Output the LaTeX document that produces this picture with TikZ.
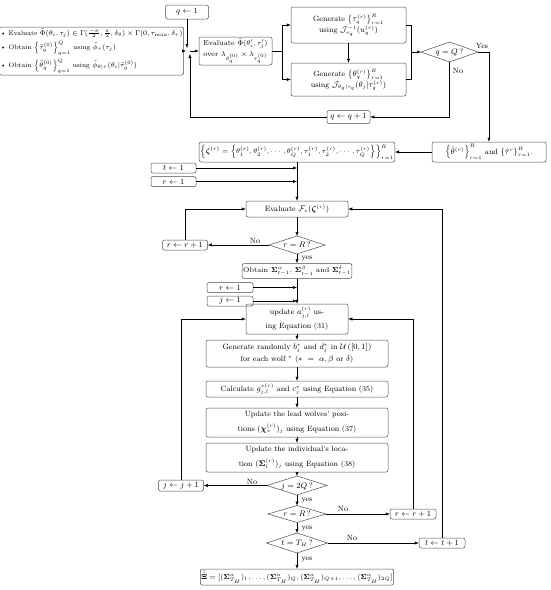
\documentclass[tikz,border=0pt]{standalone}
\usepackage{amsmath,amssymb,bm}
\usetikzlibrary{shapes.geometric,arrows.meta}
\newcommand\dtext[1]{\raisebox{-2.6pt}[0pt][0pt]{\makebox[0pt]{#1}}}
\begin{document}
\begin{tikzpicture}[x=1pt,y=-1pt,
  box/.style={draw=black!70, rounded corners=2pt, line width=0.5pt, inner sep=1pt, align=center, font=\fontsize{7.6}{9}\selectfont},
  dia/.style={draw=black!70, diamond, inner sep=0pt, outer sep=0pt, line width=0.5pt, font=\fontsize{7.6}{9}\selectfont},
  arr/.style={-{Latex[length=4pt,width=3.2pt]}, line width=0.5pt},
  ln/.style={line width=0.5pt},
  lab/.style={font=\fontsize{7.6}{9}\selectfont, inner sep=1pt}]
\useasboundingbox (0,0) rectangle (550,590);

% top part
\node[box, minimum width=173, minimum height=48, align=left, font=\fontsize{6.6}{7.5}\selectfont] (left) at (91.5,51)
 {\textbullet\ Evaluate $\tilde{\Phi}(\theta_i,\tau_j)\in\Gamma(\frac{-\pi}{2},\frac{\pi}{2},\delta_\theta)\times\Gamma(0,\tau_{\max},\delta_\tau)$\\[2.5pt]
  \textbullet\ Obtain $\left\{\tilde{\tau}_q^{(0)}\right\}_{q=1}^{Q}$ using $\tilde{\phi}_\tau(\tau_j)$\\[2.5pt]
  \textbullet\ Obtain $\left\{\tilde{\theta}_q^{(0)}\right\}_{q=1}^{Q}$ using $\tilde{\phi}_{\theta|\tau}(\theta_i|\tilde{\tau}_q^{(0)})$};
\node[box, minimum width=43, minimum height=14] (q1) at (187,12) {$q\leftarrow 1$};
\node[box, minimum width=73, minimum height=28, font=\fontsize{7.2}{8.5}\selectfont] (eval) at (235.5,51)
 {Evaluate $\tilde{\Phi}(\theta_i',\tau_j')$\\[3pt] over $\lambda_{\theta_q^{(0)}}\times\lambda_{\tau_q^{(0)}}$};
\node[box, minimum width=115, minimum height=36] (genT) at (348.5,25)
 {Generate $\left\{\tau_q^{(r)}\right\}_{r=1}^{R}$\\ using $\mathcal{J}_{\tau_q}^{-1}(u_q^{(r)})$};
\node[box, minimum width=115, minimum height=33] (genTh) at (348.5,79.5)
 {Generate $\left\{\theta_q^{(r)}\right\}_{r=1}^{R}$\\ using $\mathcal{J}_{\theta_q|\tau_q}(\theta_j|\tau_q^{(r)})$};
\node[dia, minimum width=57, minimum height=20] (dq) at (449.5,52) {\dtext{$q=Q\,?$}};
\node[box, minimum width=43, minimum height=13] (qq1) at (348.5,117) {$q\leftarrow q+1$};
\node[box, minimum width=114, minimum height=20] (yhat) at (489,152)
 {$\left\{\hat{\theta}^{(r)}\right\}_{r=1}^{R}$ and $\left\{\hat{\tau}^{r}\right\}_{r=1}^{R}$.};
\node[box, minimum width=183, minimum height=20, font=\fontsize{7.4}{9}\selectfont] (zeta) at (297,152)
 {$\left\{\boldsymbol{\zeta}^{(r)}=\left\{\theta_1^{(r)},\theta_2^{(r)},\cdots,\theta_Q^{(r)},\tau_1^{(r)},\tau_2^{(r)},\cdots,\tau_Q^{(r)}\right\}\right\}_{r=1}^{R}$};
\node[box, minimum width=45, minimum height=10] (t1) at (173.5,168) {$t\leftarrow 1$};
\node[box, minimum width=45, minimum height=10] (r1) at (173.5,181.5) {$r\leftarrow 1$};

% middle
\node[box, minimum width=102, minimum height=16] (evalF) at (297,209) {Evaluate $\mathcal{F}_c(\boldsymbol{\zeta}^{(r)})$};
\node[dia, minimum width=56, minimum height=18] (dR1) at (297,245) {\dtext{$r=R\,?$}};
\node[box, minimum width=45, minimum height=10] (rr1a) at (185,245) {$r\leftarrow r+1$};
\node[box, minimum width=101, minimum height=15, font=\fontsize{7.2}{8.5}\selectfont] (obtain) at (297,271)
 {Obtain $\boldsymbol{\Sigma}_{t-1}^{\alpha}$, $\boldsymbol{\Sigma}_{t-1}^{\beta}$ and $\boldsymbol{\Sigma}_{t-1}^{\delta}$};
\node[box, minimum width=46, minimum height=10] (r1b) at (230,287.5) {$r\leftarrow 1$};
\node[box, minimum width=46, minimum height=10] (j1) at (230,301) {$j\leftarrow 1$};
\node[box, minimum width=102, minimum height=30] (update) at (297,319)
 {update $a_{j,l}^{(r)}$ us-\\[5pt] ing Equation (31)};
\node[box, minimum width=182, minimum height=27] (genR) at (297,353.5)
 {Generate randomly $b_j^*$ and $d_j^*$ in $\mathcal{U}\left([0,1]\right)$\\[3pt] for each wolf $^*$ ($*\ =\ \alpha,\beta$ or $\delta$)};
\node[box, minimum width=182, minimum height=16] (calc) at (297,389)
 {Calculate $g_{j,l}^{*(r)}$ and $c_j^*$ using Equation (35)};
\node[box, minimum width=182, minimum height=29] (lead) at (297,422.5)
 {Update the lead wolves' posi-\\[4.5pt] tions $(\boldsymbol{\chi}_*^{(r)})_j$ using Equation (37)};
\node[box, minimum width=182, minimum height=29] (indiv) at (297,457.5)
 {Update the individual's loca-\\[4.5pt] tion $(\boldsymbol{\Sigma}_l^{(r)})_j$ using Equation (38)};
\node[dia, minimum width=60, minimum height=19] (dj) at (297,485.5) {\dtext{$j=2Q\,?$}};
\node[box, minimum width=45, minimum height=11] (jj1) at (181,485.5) {$j\leftarrow j+1$};
\node[dia, minimum width=58, minimum height=17] (dR2) at (297,514) {\dtext{$r=R\,?$}};
\node[box, minimum width=46, minimum height=10] (rr1b) at (413,514) {$r\leftarrow r+1$};
\node[dia, minimum width=61, minimum height=20] (dT) at (297,543) {\dtext{$t=T_H\,?$}};
\node[box, minimum width=46, minimum height=10] (tt1) at (442,543) {$t\leftarrow t+1$};
\node[box, minimum width=182, minimum height=16, font=\fontsize{6.8}{8}\selectfont] (final) at (297,577)
 {$\hat{\hat{\boldsymbol{\Xi}}}=[(\boldsymbol{\Sigma}_{T_H}^{\alpha})_1,\ldots,(\boldsymbol{\Sigma}_{T_H}^{\alpha})_Q,(\boldsymbol{\Sigma}_{T_H}^{\alpha})_{Q+1},\ldots,(\boldsymbol{\Sigma}_{T_H}^{\alpha})_{2Q}]$};

% connectors top
\coordinate (Jl) at (186,51);
\coordinate (Jt) at (187,48);
\coordinate (Jb) at (190,54);
\coordinate (Jo) at (190,51);
\draw[arr] (left.east) -- (Jl);
\draw[arr] (q1.south) -- (Jt);
\draw[arr] (qq1.west) -| (Jb);
\draw[arr] (Jo) -- (eval.west);
\coordinate (S) at (282,51);
\draw[ln] (eval.east) -- (S);
\draw[arr] (S) |- (genT.west);
\draw[arr] (S) |- (genTh.west);
\draw[arr] (genT.south) -- (genTh.north);
\coordinate (M) at (411,52);
\draw[ln] (genT.east) -| (M);
\draw[ln] (genTh.east) -| (M);
\draw[arr] (M) -- (dq.west);
\draw[arr] (dq.east) -| (yhat.north);
\node[lab] (yesq) at (482,46) {Yes};
\draw[arr] (dq.south) |- (qq1.east);
\node[lab] (noq) at (458,71) {No};
\draw[arr] (yhat.west) -- (zeta.east);
\draw[arr] (zeta.south) -- (evalF.north);
\draw[arr] (t1.east) -- (t1.east -| zeta.south);
\draw[arr] (r1.east) -- (r1.east -| zeta.south);

% middle connectors
\draw[arr] (evalF.south) -- (dR1.north);
\draw[arr] (dR1.west) -- (rr1a.east);
\node[lab] (no1) at (255,241) {No};
\draw[arr] (rr1a.north) |- (evalF.west);
\draw[arr] (dR1.south) -- (obtain.north);
\node[lab] (yes1) at (307,259) {yes};
\draw[arr] (obtain.south) -- (update.north);
\draw[arr] (r1b.east) -- (r1b.east -| update.north);
\draw[arr] (j1.east) -- (j1.east -| update.north);
\draw[arr] (update.south) -- (genR.north);
\draw[arr] (genR.south) -- (calc.north);
\draw[arr] (calc.south) -- (lead.north);
\draw[arr] (lead.south) -- (indiv.north);
\draw[arr] (indiv.south) -- (dj.north);
\draw[arr] (dj.west) -- (jj1.east);
\node[lab] (no2) at (252,482) {No};
\draw[arr] (jj1.north) |- (update.west);
\draw[arr] (dj.south) -- (dR2.north);
\node[lab] (yes2) at (307,501) {yes};
\draw[arr] (dR2.east) -- (rr1b.west);
\node[lab] (no3) at (343,509) {No};
\draw[arr] (rr1b.north) |- (update.east);
\draw[arr] (dR2.south) -- (dT.north);
\node[lab] (yes3) at (307,529) {yes};
\draw[arr] (dT.east) -- (tt1.west);
\node[lab] (no4) at (352,538) {No};
\draw[arr] (tt1.north) |- (evalF.east);
\draw[arr] (dT.south) -- (final.north);
\node[lab] (yes4) at (307,560) {yes};
\end{tikzpicture}
\end{document}
